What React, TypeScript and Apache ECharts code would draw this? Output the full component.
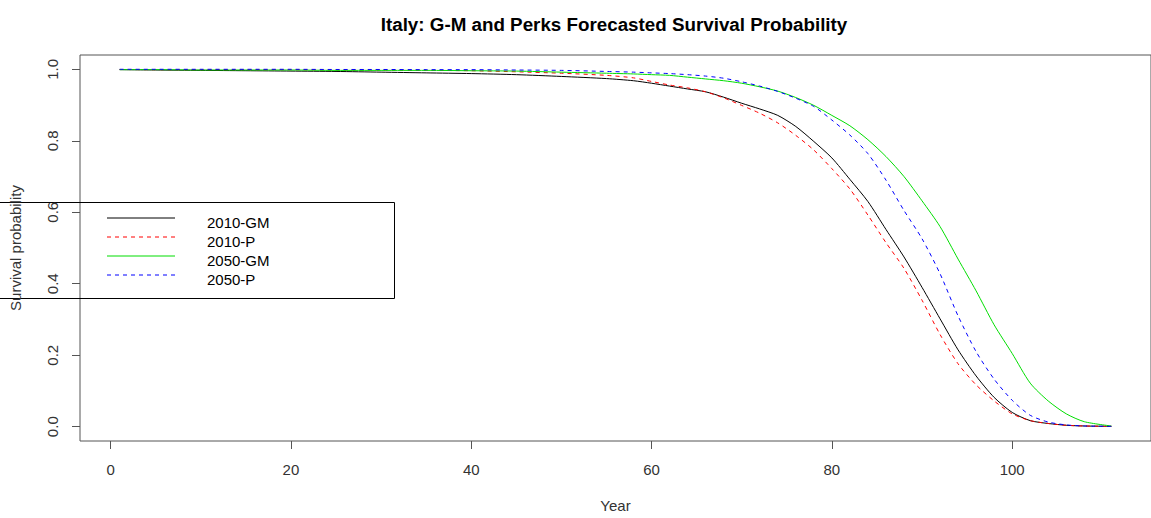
import React, { useEffect, useRef } from "react";
import * as echarts from "echarts";

// Ages at which the survival curves are sampled
const ages = [1, 5, 10, 15, 20, 25, 30, 35, 40, 45, 50, 55, 58, 60, 62, 64, 66, 68, 70, 72, 74, 76, 78, 80, 82, 84, 86, 88, 90, 92, 94, 96, 98, 100, 102, 104, 106, 108, 111];

const gm2010 = [0.999, 0.998, 0.997, 0.996, 0.995, 0.994, 0.992, 0.99, 0.988, 0.985, 0.98, 0.974, 0.968, 0.961, 0.953, 0.945, 0.937, 0.922, 0.905, 0.889, 0.871, 0.84, 0.798, 0.752, 0.692, 0.63, 0.552, 0.475, 0.39, 0.302, 0.215, 0.142, 0.082, 0.04, 0.017, 0.009, 0.004, 0.002, 0.001];
const p2010 = [0.9995, 0.999, 0.999, 0.999, 0.999, 0.998, 0.998, 0.997, 0.996, 0.993, 0.989, 0.983, 0.976, 0.966, 0.956, 0.948, 0.937, 0.92, 0.899, 0.877, 0.85, 0.815, 0.774, 0.722, 0.665, 0.592, 0.515, 0.443, 0.354, 0.258, 0.176, 0.117, 0.072, 0.036, 0.017, 0.009, 0.004, 0.002, 0.001];
const gm2050 = [0.999, 0.999, 0.998, 0.998, 0.998, 0.997, 0.997, 0.997, 0.996, 0.995, 0.992, 0.989, 0.987, 0.985, 0.983, 0.978, 0.973, 0.968, 0.961, 0.951, 0.939, 0.921, 0.899, 0.871, 0.842, 0.803, 0.756, 0.7, 0.632, 0.56, 0.469, 0.38, 0.285, 0.205, 0.122, 0.072, 0.036, 0.014, 0.002];
const p2050 = [1.0, 1.0, 1.0, 1.0, 1.0, 0.9995, 0.9995, 0.999, 0.999, 0.998, 0.997, 0.994, 0.992, 0.99, 0.988, 0.985, 0.981, 0.975, 0.965, 0.953, 0.938, 0.919, 0.896, 0.858, 0.816, 0.764, 0.69, 0.605, 0.526, 0.428, 0.31, 0.21, 0.133, 0.074, 0.032, 0.013, 0.005, 0.002, 0.001];

const seriesNames = ["2010-GM", "2010-P", "2050-GM", "2050-P"];
const seriesColors = ["#000000", "#ff0000", "#00dd00", "#0000ff"];
const seriesDashed = [false, true, false, true];
const xTicks = [0, 20, 40, 60, 80, 100];
const yTicks = [0, 0.2, 0.4, 0.6, 0.8, 1.0];

const FONT = "Liberation Sans, Arial, sans-serif";

// Legend layout (key box and sample-line rows)
const LEGEND_LEFT = 107;
const LEGEND_TOP = 210;
const KEY_WIDTH = 68;
const ROW_STEP = 19;

export default function App() {
  const ref = useRef<HTMLDivElement>(null);

  useEffect(() => {
    if (!ref.current) return;
    const chart = echarts.init(ref.current, undefined, { renderer: "svg" });
    const pairs = (vals: number[]) => ages.map((a, i) => [a, vals[i]]);
    const values = [gm2010, p2010, gm2050, p2050];
    const dashOf = (i: number) => (seriesDashed[i] ? [4, 4] : null);

    // Sample lines of the legend key, one per series row
    const keyLines = seriesNames.map((_, i) => {
      const y = LEGEND_TOP + 7.5 + i * ROW_STEP + 0.5;
      return {
        type: "line",
        silent: true,
        shape: { x1: LEGEND_LEFT, y1: y, x2: LEGEND_LEFT + KEY_WIDTH, y2: y },
        style: { stroke: seriesColors[i], lineWidth: 1, lineDash: dashOf(i) },
      };
    });

    chart.setOption({
      animation: false,
      backgroundColor: "#ffffff",
      title: {
        text: "Italy: G-M and Perks Forecasted Survival Probability",
        left: 609,
        top: 10,
        textAlign: "center",
        textStyle: { fontFamily: FONT, fontSize: 18.8, fontWeight: "bold", color: "#000" },
      },
      legend: {
        orient: "vertical",
        left: LEGEND_LEFT,
        top: LEGEND_TOP,
        itemWidth: KEY_WIDTH,
        itemHeight: 12,
        itemGap: ROW_STEP - 15,
        selectedMode: false,
        data: seriesNames,
        itemStyle: { opacity: 0 },
        lineStyle: { opacity: 0 },
        textStyle: {
          fontFamily: FONT,
          fontSize: 15,
          lineHeight: 15,
          color: "#000",
          padding: [0, 0, 0, 21],
        },
      },
      grid: {
        left: 74,
        top: 55,
        width: 1082,
        height: 391,
        show: true,
        borderColor: "#555",
        borderWidth: 1,
        backgroundColor: "transparent",
      },
      xAxis: {
        type: "value",
        min: -3.4,
        max: 115.4,
        name: "Year",
        nameLocation: "middle",
        nameGap: 57,
        nameTextStyle: { fontFamily: FONT, fontSize: 15, color: "#333" },
        axisLine: { show: false, onZero: false },
        splitLine: { show: false },
        axisTick: { show: true, length: 8, customValues: xTicks, lineStyle: { color: "#555" } },
        axisLabel: {
          customValues: xTicks,
          margin: 21,
          fontFamily: FONT,
          fontSize: 15,
          color: "#333",
        },
      },
      yAxis: {
        type: "value",
        min: -0.04,
        max: 1.04,
        name: "Survival probability",
        nameLocation: "middle",
        nameGap: 57,
        nameRotate: 90,
        nameTextStyle: { fontFamily: FONT, fontSize: 15, color: "#333" },
        axisLine: { show: false, onZero: false },
        splitLine: { show: false },
        axisTick: { show: true, length: 8, customValues: yTicks, lineStyle: { color: "#555" } },
        axisLabel: {
          customValues: yTicks,
          rotate: 90,
          margin: 20,
          fontFamily: FONT,
          fontSize: 15,
          color: "#333",
          formatter: (v: number) => v.toFixed(1),
        },
      },
      graphic: [
        {
          type: "rect",
          shape: { x: -5, y: 202.5, width: 399.5, height: 96 },
          style: { fill: "none", stroke: "#000", lineWidth: 1 },
          silent: true,
        },
        ...keyLines,
      ],
      series: seriesNames.map((name, i) => ({
        name,
        type: "line",
        data: pairs(values[i]),
        symbol: "none",
        smooth: 0.25,
        lineStyle: {
          width: 1,
          color: seriesColors[i],
          type: seriesDashed[i] ? [4, 4] : "solid",
        },
        itemStyle: { color: seriesColors[i] },
        silent: true,
      })),
    });

    return () => chart.dispose();
  }, []);

  return (
    <div
      ref={ref}
      style={{ position: "fixed", left: 0, top: 0, width: 1151, height: 518 }}
    />
  );
}
